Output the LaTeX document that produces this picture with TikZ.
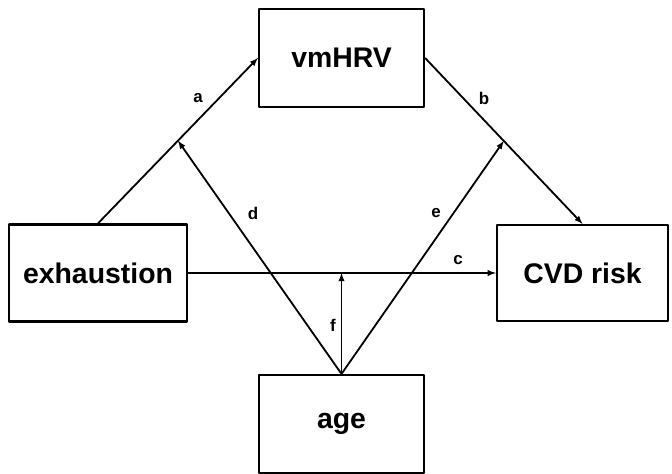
\documentclass[tikz,border=0pt]{standalone}
\usepackage{fontspec}
\setmainfont{Liberation Sans}
\begin{document}
\begin{tikzpicture}[>=latex,line join=bevel,
  var/.style={draw,line width=2.2bp,minimum width=165bp,minimum height=98bp,inner sep=0pt,font=\fontsize{28.5}{30}\selectfont\bfseries},
  lbl/.style={inner sep=0pt,font=\fontsize{17}{19}\selectfont\bfseries},
  link/.style={black,->,line width=1.8bp}]
%%
\useasboundingbox (0bp,0bp) rectangle (672bp,474bp);
\node (vmhrv) at (341.5bp,416.0bp) [var] {vmHRV};
  \node (exhaustion) at (98.0bp,201.0bp) [var,minimum width=178bp,minimum height=97bp] {exhaustion};
  \node (cvd) at (582.5bp,201.0bp) [var,minimum width=171bp,minimum height=96bp] {CVD risk};
  \node (age) at (341.5bp,50.0bp) [var] {age};
  \draw [link] (exhaustion.north) -- coordinate (mid_a) (vmhrv.west);
  \draw [link] (vmhrv.east) -- coordinate (mid_b) (cvd.north);
  \draw [link] (exhaustion.east) -- (cvd.west);
  \draw [link] (age.north) -- (mid_a);
  \draw [link] (age.north) -- (mid_b);
  \draw [link] (age.north) -- (age.north |- exhaustion.east);
%
\node (lbl_a) at (198.0bp,376.0bp) [lbl] {a};
  \node (lbl_b) at (484.0bp,376.0bp) [lbl] {b};
  \node (lbl_c) at (458.0bp,214.0bp) [lbl] {c};
  \node (lbl_d) at (253.0bp,261.0bp) [lbl] {d};
  \node (lbl_e) at (436.0bp,261.0bp) [lbl] {e};
  \node (lbl_f) at (333.0bp,149.0bp) [lbl] {f};
%
\end{tikzpicture}
\end{document}
